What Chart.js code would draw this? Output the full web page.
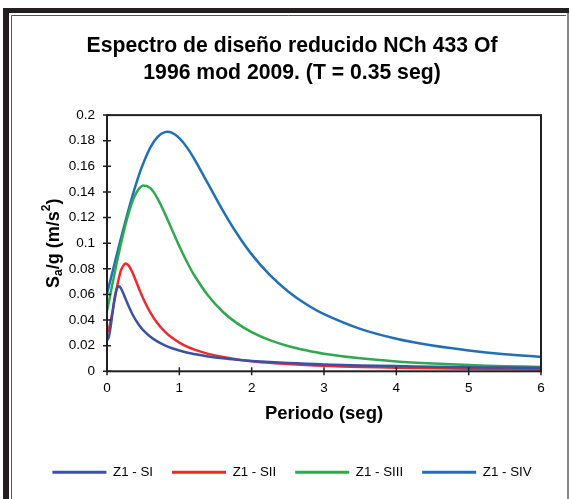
<!DOCTYPE html>
<html>
<head>
<meta charset="utf-8">
<script src="https://cdn.jsdelivr.net/npm/chart.js@4.4.1/dist/chart.umd.min.js"></script>
<style>
  html, body { margin: 0; padding: 0; background: #fff; }
  #wrap { width: 571px; height: 499px; position: relative; }
</style>
</head>
<body>
<div id="wrap"><canvas id="espectro"></canvas></div>
<script>
// Periodos (seg) y Sa/g
const periodos = [0, 0.025, 0.05, 0.075, 0.1, 0.125, 0.15, 0.175, 0.2, 0.25, 0.3, 0.35, 0.4, 0.45, 0.5,
    0.6, 0.7, 0.8, 0.9, 1.0, 1.1, 1.2, 1.4, 1.6, 1.8, 2.0, 2.25, 2.5, 2.75, 3.0, 3.5, 4.0, 4.5, 5.0, 5.5, 6.0];

const sueloI = [0.0240, 0.0269, 0.0347, 0.0453, 0.0556, 0.0627, 0.0660, 0.0661, 0.0641, 0.0575, 0.0507, 0.0447,
    0.0397, 0.0356, 0.0322, 0.0270, 0.0232, 0.0203, 0.0180, 0.0162, 0.0147, 0.0135, 0.0116, 0.0101, 0.0090,
    0.0081, 0.0072, 0.0065, 0.0059, 0.0054, 0.0046, 0.0041, 0.0036, 0.0032, 0.0029, 0.0027];
const sueloII = [0.0300, 0.0332, 0.0390, 0.0462, 0.0540, 0.0618, 0.0691, 0.0752, 0.0798, 0.0841, 0.0825, 0.0773,
    0.0706, 0.0635, 0.0569, 0.0458, 0.0373, 0.0310, 0.0261, 0.0224, 0.0194, 0.0171, 0.0136, 0.0111, 0.0093,
    0.0079, 0.0066, 0.0057, 0.0049, 0.0043, 0.0034, 0.0028, 0.0023, 0.0020, 0.0017, 0.0015];
const sueloIII = [0.0470, 0.0540, 0.0611, 0.0681, 0.0750, 0.0819, 0.0886, 0.0951, 0.1015, 0.1133, 0.1237, 0.1323,
    0.1388, 0.1430, 0.1450, 0.1430, 0.1348, 0.1231, 0.1103, 0.0976, 0.0860, 0.0756, 0.0589, 0.0465, 0.0374,
    0.0306, 0.0243, 0.0198, 0.0164, 0.0137, 0.0101, 0.0077, 0.0061, 0.0049, 0.0040, 0.0034];
const sueloIV = [0.0605, 0.0662, 0.0718, 0.0775, 0.0831, 0.0888, 0.0943, 0.0999, 0.1054, 0.1162, 0.1266, 0.1365,
    0.1459, 0.1545, 0.1622, 0.1748, 0.1830, 0.1867, 0.1862, 0.1820, 0.1752, 0.1664, 0.1461, 0.1257, 0.1072,
    0.0913, 0.0752, 0.0625, 0.0525, 0.0446, 0.0331, 0.0254, 0.0201, 0.0163, 0.0134, 0.0113];

const nombres = ['Z1 - SI', 'Z1 - SII', 'Z1 - SIII', 'Z1 - SIV'];
const colores = ['#3A52A3', '#EE2A2A', '#2EAA4E', '#1F6FB9'];
const series = [sueloI, sueloII, sueloIII, sueloIV];

const tituloGrafico = ['Espectro de diseño reducido NCh 433 Of', '1996 mod 2009. (T = 0.35 seg)'];

const FUENTE = "'Liberation Sans', Arial, sans-serif";
const OSCURO = '#231F20';

// Marco exterior estilo Excel
const marco = {
    id: 'marco',
    beforeDraw(chart) {
        const ctx = chart.ctx;
        ctx.save();
        ctx.fillStyle = '#fff';
        ctx.fillRect(0, 0, chart.width, chart.height);
        ctx.fillStyle = OSCURO;
        ctx.fillRect(3, 8, 6, chart.height);
        ctx.fillRect(3, 8, 566, 5);
        ctx.strokeStyle = '#555';
        ctx.lineWidth = 1;
        ctx.beginPath();
        ctx.moveTo(11.5, chart.height);
        ctx.lineTo(11.5, 15.5);
        ctx.lineTo(566, 15.5);
        ctx.stroke();
        ctx.strokeStyle = '#8a8a8a';
        ctx.lineWidth = 2;
        ctx.beginPath();
        ctx.moveTo(568, 13);
        ctx.lineTo(568, chart.height);
        ctx.stroke();
        ctx.restore();
    }
};

// Caja del area de trazado y marcas que cruzan los ejes
const cajaEjes = {
    id: 'cajaEjes',
    afterDatasetsDraw(chart) {
        const {ctx, chartArea: a, scales: {x, y}} = chart;
        ctx.save();
        ctx.strokeStyle = OSCURO;
        ctx.lineWidth = 2;
        ctx.strokeRect(a.left, a.top, a.right - a.left, a.bottom - a.top);
        ctx.lineWidth = 1.5;
        ctx.beginPath();
        x.ticks.forEach(t => {
            const px = x.getPixelForValue(t.value);
            ctx.moveTo(px, a.bottom - 4);
            ctx.lineTo(px, a.bottom + 4);
        });
        y.ticks.forEach(t => {
            const py = y.getPixelForValue(t.value);
            ctx.moveTo(a.left - 4, py);
            ctx.lineTo(a.left + 4, py);
        });
        ctx.stroke();
        ctx.restore();
    }
};

// Titulo del eje Y con subindice y superindice
const tituloY = {
    id: 'tituloY',
    afterDraw(chart) {
        const {ctx, chartArea: a} = chart;
        const partes = [
            {t: 'S', f: 18, dy: 0},
            {t: 'a', f: 12, dy: 5},
            {t: '/g (m/s', f: 18, dy: 0},
            {t: '2', f: 12, dy: -7},
            {t: ')', f: 18, dy: 0}
        ];
        ctx.save();
        let total = 0;
        partes.forEach(p => {
            ctx.font = 'bold ' + p.f + 'px ' + FUENTE;
            p.w = ctx.measureText(p.t).width;
            total += p.w;
        });
        ctx.translate(54, (a.top + a.bottom) / 2);
        ctx.rotate(-Math.PI / 2);
        ctx.fillStyle = '#000';
        ctx.textBaseline = 'middle';
        let cx = -total / 2;
        partes.forEach(p => {
            ctx.font = 'bold ' + p.f + 'px ' + FUENTE;
            ctx.fillText(p.t, cx, p.dy);
            cx += p.w;
        });
        ctx.restore();
    }
};

const ctx = document.getElementById('espectro').getContext('2d');

new Chart(ctx, {
    type: 'line',
    data: {
        datasets: series.map((vals, i) => ({
            label: nombres[i],
            data: periodos.map((p, k) => ({x: p, y: vals[k]})),
            borderColor: colores[i],
            backgroundColor: colores[i],
            borderWidth: 2.5,
            pointRadius: 0,
            fill: false,
            tension: 0.3
        }))
    },
    options: {
        responsive: true,
        maintainAspectRatio: false,
        animation: false,
        layout: {
            padding: {left: 20, right: 7, top: 0, bottom: 10}
        },
        plugins: {
            title: {
                display: true,
                text: tituloGrafico,
                color: '#000',
                font: {family: FUENTE, size: 21.2, weight: 'bold', lineHeight: 1.3},
                padding: {top: 32, bottom: 28}
            },
            legend: {
                position: 'bottom',
                labels: {
                    color: '#000',
                    font: {family: FUENTE, size: 13.3},
                    boxWidth: 54,
                    boxHeight: 3,
                    padding: 19,
                    generateLabels(chart) {
                        const items = Chart.defaults.plugins.legend.labels.generateLabels(chart);
                        items.forEach(it => { it.lineWidth = 0; });
                        return items;
                    }
                }
            },
            tooltip: {enabled: false}
        },
        scales: {
            x: {
                type: 'linear',
                min: 0,
                max: 6,
                ticks: {
                    stepSize: 1,
                    color: '#000',
                    padding: 5,
                    font: {family: FUENTE, size: 13.5}
                },
                grid: {display: false, tickLength: 4},
                border: {display: false},
                title: {
                    display: true,
                    text: 'Periodo (seg)',
                    color: '#000',
                    font: {family: FUENTE, size: 18.5, weight: 'bold'},
                    padding: {top: 1, bottom: 22}
                }
            },
            y: {
                min: 0,
                max: 0.2,
                ticks: {
                    stepSize: 0.02,
                    color: '#000',
                    padding: 8,
                    font: {family: FUENTE, size: 13.5},
                    callback: v => String(+v.toFixed(2))
                },
                grid: {display: false, tickLength: 4},
                border: {display: false},
                afterFit(scale) { scale.width = 87; }
            },
            // eje vacio a la derecha solo para reservar margen
            margenDer: {
                type: 'linear',
                position: 'right',
                ticks: {display: false},
                grid: {display: false, drawTicks: false},
                border: {display: false},
                afterFit(scale) { scale.width = 23; }
            }
        }
    },
    plugins: [marco, cajaEjes, tituloY]
});
</script>
</body>
</html>
